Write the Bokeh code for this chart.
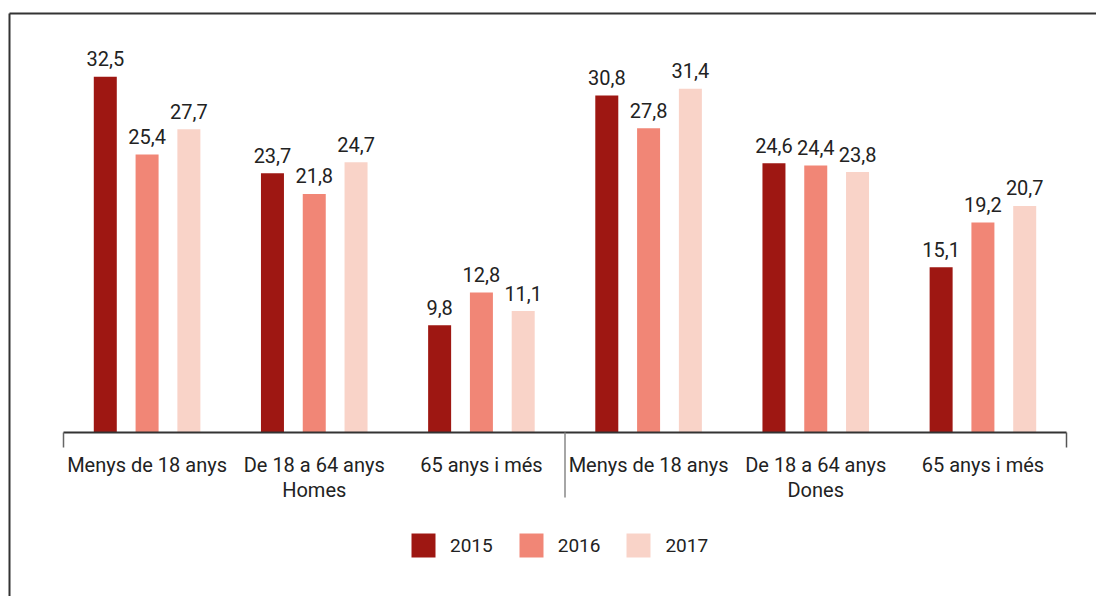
from bokeh.plotting import figure
from bokeh.models import ColumnDataSource, Range1d, Legend, LegendItem
from bokeh.core.properties import value
from bokeh.embed import file_html
from bokeh.resources import INLINE

groups = ["Homes", "Dones"]
ages = ["Menys de 18 anys", "De 18 a 64 anys", "65 anys i més"]
years = ["2015", "2016", "2017"]
v2015 = [32.5, 23.7, 9.8, 30.8, 24.6, 15.1]
v2016 = [25.4, 21.8, 12.8, 27.8, 24.4, 19.2]
v2017 = [27.7, 24.7, 11.1, 31.4, 23.8, 20.7]

colors = ["#9e1712", "#f18676", "#f9d3c8"]
FONT = value("Roboto")
TXT = "#222222"

# layout (page pixels): plot area from x=63 to 1066, baseline at y=432
W, H = 1096, 596
X0_PX, X1_PX, BASE_PX = 63, 1066, 432
n = len(groups) * len(ages)
kx = (X1_PX - X0_PX) / n          # px per category
ky = 10.944                       # px per unit of value
x_start, x_end = -X0_PX / kx, (W - X0_PX) / kx
y_start, y_end = -(H - BASE_PX) / ky, BASE_PX / ky

def dx(px):   # page x -> data x
    return x_start + px / kx

def dy(py):   # page y -> data y
    return y_end - py / ky

cats = [(g, a) for g in groups for a in ages]
centers = [i + 0.5 for i in range(n)]

p = figure(x_range=Range1d(x_start, x_end), y_range=Range1d(y_start, y_end),
           width=W, height=H, output_backend="svg", toolbar_location=None,
           x_axis_location=None, y_axis_location=None, min_border=0)
p.outline_line_color = None
p.xgrid.grid_line_color = None
p.ygrid.grid_line_color = None

# outer box (left and top edges)
p.segment(x0=[dx(9), dx(9)], y0=[dy(13), dy(13)], x1=[dx(9), dx(W + 5)], y1=[dy(H + 5), dy(13)],
          line_color="#333333", line_width=2)

offsets = [-0.25, 0.0, 0.25]
bar_w = 23 / kx
renderers = []
for yr, off, c, vals in zip(years, offsets, colors, [v2015, v2016, v2017]):
    src = ColumnDataSource(dict(
        x=[cx + off for cx in centers], top=vals,
        ty=[v + 18 / ky for v in vals],
        label=[f"{v:.1f}".replace(".", ",") for v in vals]))
    r = p.vbar(x="x", top="top", bottom=0, width=bar_w, source=src,
               fill_color=c, line_color=None)
    renderers.append(r)
    p.text(x="x", y="ty", text="label", source=src, text_align="center",
           text_baseline="alphabetic", text_font=FONT, text_font_size="20px", text_color=TXT)

# axis line, end ticks and group separator
p.segment(x0=[0], y0=[0], x1=[n], y1=[0], line_color="#333333", line_width=2)
tick_x = [0, n / 2, n]
tick_len = [15, 65, 15]
p.segment(x0=tick_x, y0=[0] * 3, x1=tick_x, y1=[-t / ky for t in tick_len],
          line_color=["#666666", "#888888", "#555555"], line_width=1.5)

# category labels
p.text(x=centers, y=[-32 / ky] * n, text=[a for _, a in cats], text_align="center",
       text_baseline="alphabetic", text_font=FONT, text_font_size="20px", text_color=TXT)
gcenters = [len(ages) * (j + 0.5) for j in range(len(groups))]
p.text(x=gcenters, y=[-57 / ky] * len(groups), text=groups, text_align="center",
       text_baseline="alphabetic", text_font=FONT, text_font_size="20px", text_color=TXT)

legend = Legend(items=[LegendItem(label=yr, renderers=[r]) for yr, r in zip(years, renderers)],
                orientation="horizontal", location=(408, H - 560),
                glyph_width=30, glyph_height=30, label_standoff=12, spacing=23,
                padding=0, margin=0, border_line_color=None, background_fill_alpha=0,
                label_text_font="Roboto", label_text_font_size="19px", label_text_color=TXT,
                label_text_baseline="top")
p.add_layout(legend, "center")

open("out.html", "w").write(file_html(p, INLINE))
